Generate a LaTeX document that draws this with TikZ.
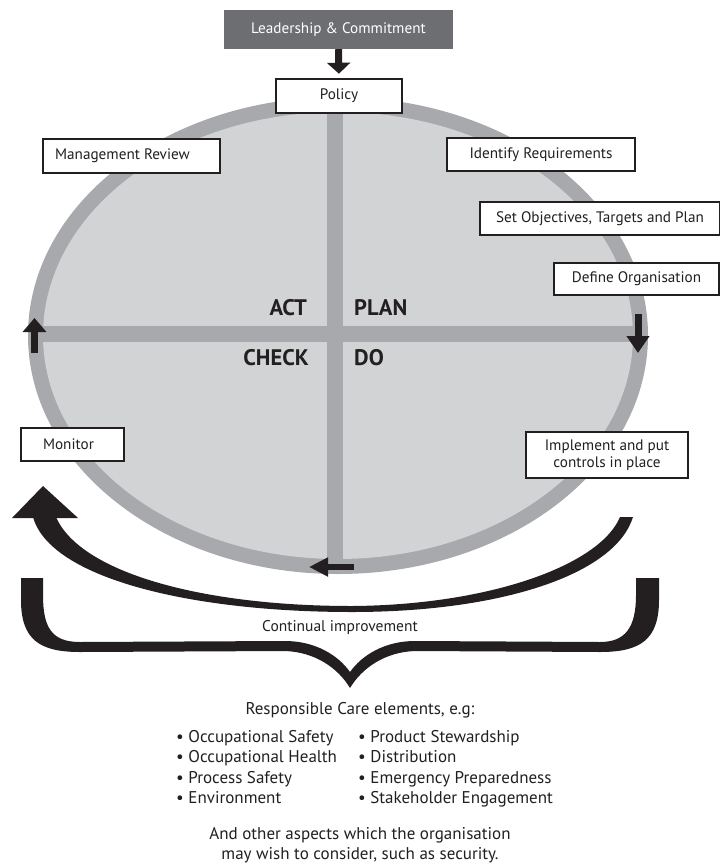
\documentclass[tikz,border=0pt]{standalone}
\usepackage{fontspec}
\setmainfont{PT Sans}
\usetikzlibrary{arrows.meta}

\definecolor{ringgrey}{HTML}{A7A9AC}
\definecolor{fillgrey}{HTML}{D1D3D4}
\definecolor{leadgrey}{HTML}{6D6E71}
\definecolor{inkblack}{HTML}{231F20}

\tikzset{
  stagebox/.style={draw=inkblack, line width=1.6pt, fill=white, inner sep=0pt,
    text=inkblack, font=\fontsize{15.2}{17}\selectfont, align=center},
  quadlabel/.style={text=inkblack, inner sep=0pt, font=\fontsize{22.5}{25}\bfseries},
  ringarrow/.style={draw=inkblack, line width=7pt, -{Triangle[width=23pt,length=14pt]}},
  bodytext/.style={text=inkblack, inner sep=0pt, font=\fontsize{17}{20.5}\selectfont}
}

\begin{document}
\begin{tikzpicture}[x=1pt, y=-1pt]
  \useasboundingbox (0,0) rectangle (720,868);

  % cycle ellipse
  \fill[ringgrey] (338,335.5) ellipse [x radius=310, y radius=238.5];
  \fill[fillgrey] (338,335.5) ellipse [x radius=295, y radius=223.5];
  \fill[ringgrey] (327,110) rectangle (343,562);   %vertical bar
  \fill[ringgrey] (41,326) rectangle (635,342);    %horizontal bar

  \node[quadlabel, anchor=base east] (act) at (307,315) {ACT};
  \node[quadlabel, anchor=base west] (plan) at (354,315) {PLAN};
  \node[quadlabel, anchor=base east] (check) at (309,365) {CHECK};
  \node[quadlabel, anchor=base west] (do) at (354,365) {DO};

  % arrows on the ring
  \coordinate (actS) at (34.5,353);
  \coordinate (actE) at (34.5,318);
  \coordinate (planS) at (638,314);
  \coordinate (planE) at (638,353);
  \coordinate (checkS) at (354,567);
  \coordinate (checkE) at (309,567);
  \draw[ringarrow] (actS) -- (actE);
  \draw[ringarrow, -{Triangle[width=22pt,length=17pt]}] (planS) -- (planE);
  \draw[ringarrow, line width=6.5pt, -{Triangle[width=18pt,length=19pt]}] (checkS) -- (checkE);

  % boxes
  \node[fill=leadgrey, minimum width=229pt, minimum height=39pt, inner sep=0pt,
    text=white, font=\fontsize{15.2}{17}\selectfont] (lead) at (338.5,29.5)
    {Leadership \& Commitment\hspace{18pt}};
  \node[stagebox, minimum width=126pt, minimum height=34pt] (policy) at (339,96) {Policy};
  \node[stagebox, minimum width=177pt, minimum height=34pt] (review) at (131.5,156)
    {Management Review\hspace{18pt}};
  \node[stagebox, minimum width=188pt, minimum height=33pt] (ident) at (541,154.5)
    {Identify Requirements};
  \node[stagebox, minimum width=240pt, minimum height=33pt] (targets) at (600,218.5)
    {Set Objectives, Targets and Plan};
  \node[stagebox, minimum width=165pt, minimum height=32pt] (organise) at (636.5,279)
    {Define Organisation};
  \node[stagebox, minimum width=103pt, minimum height=33pt] (monitor) at (72.5,444.5)
    {Monitor\hspace{8pt}};
  \node[stagebox, minimum width=162pt, minimum height=46pt] (implement) at (607,455)
    {Implement and put\\controls in place};

  \draw[ringarrow, line width=7pt, shorten >=4.5pt, -{Triangle[width=23pt,length=11pt]}]
    (lead.south) -- (policy.north);

  % continual improvement sweep
  \fill[inkblack] (33,517) .. controls (50,578) and (190,612) .. (352,612)
    .. controls (500,612) and (615,575) .. (633,517) -- (620,517)
    .. controls (600,565) and (490,605) .. (352,606)
    .. controls (200,606) and (80,572) .. (56,517) -- cycle;
  \fill[inkblack] (12,518) -- (43,486) -- (78,518) -- cycle;

  \node[bodytext, font=\fontsize{15.5}{17}\selectfont] (cont) at (340,628) {Continual improvement};

  % brace
  \fill[inkblack] (21,578) -- (21,600) .. controls (21,640) and (40,652) .. (80,652)
    -- (285,651) .. controls (315,652) and (338,668) .. (350,688)
    .. controls (362,668) and (385,652) .. (415,651)
    -- (600,652) .. controls (640,652) and (659,640) .. (659,600) -- (659,578)
    -- (636,578) -- (636,595) .. controls (636,628) and (625,642) .. (600,642)
    -- (415,641) .. controls (385,641) and (362,655) .. (350,672)
    .. controls (338,655) and (315,641) .. (285,641)
    -- (80,642) .. controls (52,642) and (43,628) .. (43,595) -- (43,578) -- cycle;

  % responsible care text
  \node[bodytext] (rc) at (360,710) {Responsible Care elements, e.g:};
  \node[bodytext, anchor=north west, align=left] (listA) at (176,730)
    {\textbullet\ Occupational Safety\\\textbullet\ Occupational Health\\
     \textbullet\ Process Safety\\\textbullet\ Environment};
  \node[bodytext, anchor=north west, align=left] (listB) at (358,730)
    {\textbullet\ Product Stewardship\\\textbullet\ Distribution\\
     \textbullet\ Emergency Preparedness\\\textbullet\ Stakeholder Engagement};
  \node[bodytext, align=center] (other) at (360,845)
    {And other aspects which the organisation\\may wish to consider, such as security.};
\end{tikzpicture}
\end{document}
